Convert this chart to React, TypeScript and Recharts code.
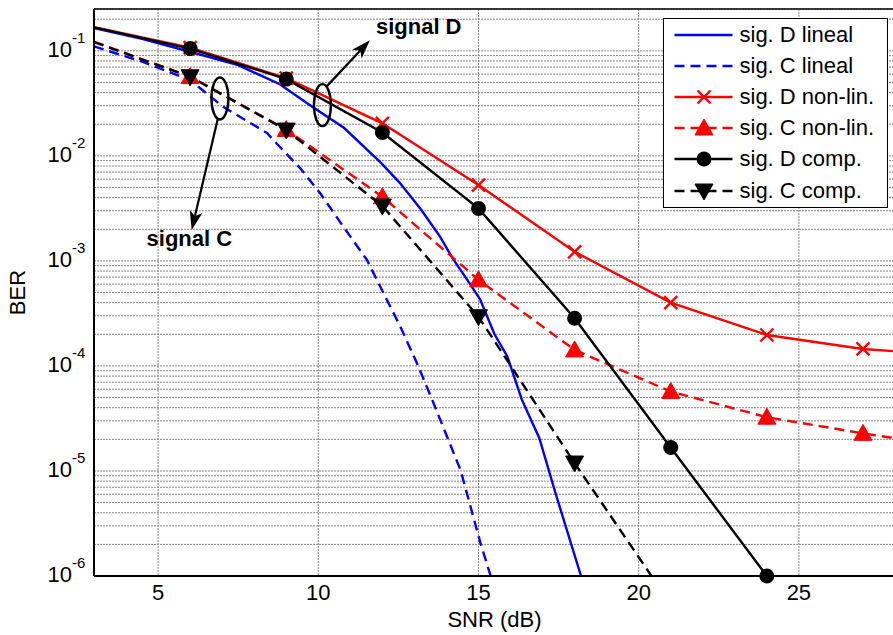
import { LineChart, Line, XAxis, YAxis, CartesianGrid, Legend, ReferenceLine, ReferenceDot } from 'recharts'

const FONT = '"Liberation Sans", Arial, Helvetica, sans-serif'

// simulated points (markers every 3 dB)
const markedSnr = [3, 6, 9, 12, 15, 18, 21, 24, 27, 28]
const sigDNonLin = [0.168, 0.107, 0.055, 0.0204, 0.00527, 0.00122, 0.0004, 0.000197, 0.000145, 0.000138]
const sigCNonLin = [0.122, 0.0568, 0.0178, 0.00408, 0.00066, 0.000142, 0.000057, 0.0000325, 0.0000228, 0.0000205]

const compDSnr = [3, 6, 9, 12, 15, 18, 21, 24]
const sigDComp = [0.167, 0.105, 0.0538, 0.0167, 0.00316, 0.000284, 0.0000167, 0.000001]
const compCSnr = [3, 6, 9, 12, 15, 18, 20.4]
const sigCComp = [0.121, 0.0566, 0.0176, 0.00333, 0.000294, 0.0000119, 0.000001]

// linear channel curves (dense, no markers)
const sigDLinealSnr = [3, 4.5, 6, 7.5, 8.8, 9.8, 10.8, 11.95, 12.55, 13.2, 13.8, 14.2, 14.65, 15.05, 15.5, 15.9, 16.35, 16.9, 17.4, 18.2]
const sigDLineal = [0.165, 0.13, 0.098, 0.073, 0.048, 0.0295, 0.0185, 0.0086, 0.0055, 0.0031, 0.0017, 0.00105, 0.00066, 0.00043, 0.0002, 0.000123, 0.000048, 0.0000205, 0.0000062, 0.000001]
const sigCLinealSnr = [3, 4.5, 6, 7.03, 8.4, 8.7, 9.44, 10.06, 10.79, 11.52, 12.04, 12.56, 13.08, 13.55, 14.44, 15.06, 15.38]
const sigCLineal = [0.11, 0.079, 0.0526, 0.0293, 0.0165, 0.0131, 0.0076, 0.0044, 0.0021, 0.00102, 0.00049, 0.000237, 0.000106, 0.000048, 0.0000102, 0.00000207, 0.000001]

const xTicks = [5, 10, 15, 20, 25]
const yDecades = [1e-6, 1e-5, 1e-4, 1e-3, 1e-2, 1e-1]
const yMinorSteps = [1, 2, 3, 4, 5, 6, 7, 8, 9]
const yTicks = yDecades
  .flatMap((d) => yMinorSteps.map((m) => +(m * d).toPrecision(3)))
  .filter((v) => v <= 0.25)

const toPoints = (snr: number[], ber: number[]) => snr.map((s, i) => ({ snr: s, ber: ber[i] }))

type MarkerKind = 'none' | 'x' | 'triUp' | 'triDown' | 'circle'

interface SeriesDef {
  name: string
  data: { snr: number; ber: number }[]
  color: string
  dash?: string
  marker: MarkerKind
}

const DASH = '10 6'
const LW = 2.4

const series: SeriesDef[] = [
  { name: 'sig. D lineal', data: toPoints(sigDLinealSnr, sigDLineal), color: '#0000ff', marker: 'none' },
  { name: 'sig. C lineal', data: toPoints(sigCLinealSnr, sigCLineal), color: '#0000ff', dash: DASH, marker: 'none' },
  { name: 'sig. D non-lin.', data: toPoints(markedSnr, sigDNonLin), color: '#ff0000', marker: 'x' },
  { name: 'sig. C non-lin.', data: toPoints(markedSnr, sigCNonLin), color: '#ff0000', dash: DASH, marker: 'triUp' },
  { name: 'sig. D comp.', data: toPoints(compDSnr, sigDComp), color: '#000000', marker: 'circle' },
  { name: 'sig. C comp.', data: toPoints(compCSnr, sigCComp), color: '#000000', dash: DASH, marker: 'triDown' },
]

const Marker = ({ kind, cx, cy, color }: { kind: MarkerKind; cx: number; cy: number; color: string }) => {
  if (kind === 'x') {
    const s = 6.5
    return (
      <g stroke={color} strokeWidth={LW}>
        <line x1={cx - s} y1={cy - s} x2={cx + s} y2={cy + s} />
        <line x1={cx - s} y1={cy + s} x2={cx + s} y2={cy - s} />
      </g>
    )
  }
  if (kind === 'triUp') {
    return <polygon points={`${cx},${cy - 9} ${cx - 9},${cy + 7} ${cx + 9},${cy + 7}`} fill={color} stroke={color} />
  }
  if (kind === 'triDown') {
    return <polygon points={`${cx},${cy + 9} ${cx - 9},${cy - 7} ${cx + 9},${cy - 7}`} fill={color} stroke={color} />
  }
  if (kind === 'circle') {
    return <circle cx={cx} cy={cy} r={7.5} fill={color} />
  }
  return null
}

const makeDot = (s: SeriesDef) => (p: any) => {
  const snr = p.payload?.snr
  const show = Number.isInteger(snr) && snr >= 6 && snr <= 27
  if (!show || p.cx == null || p.cy == null) return <g key={`d-${p.index}`} />
  return (
    <g key={`d-${p.index}`}>
      <Marker kind={s.marker} cx={p.cx} cy={p.cy} color={s.color} />
    </g>
  )
}

const YTick = ({ x, y, payload }: any) => {
  const lg = Math.log10(payload.value)
  const e = Math.round(lg)
  if (Math.abs(lg - e) > 1e-6) return <g />
  return (
    <g fontFamily={FONT} fill="#000">
      <text x={x - 14} y={y + 6} textAnchor="end" fontSize={22}>10</text>
      <text x={x - 14} y={y - 8} textAnchor="start" fontSize={15}>{`${e}`}</text>
    </g>
  )
}

const BerLabel = ({ viewBox }: any) => {
  const cx = 25
  const cy = viewBox.y + viewBox.height / 2
  return (
    <text x={cx} y={cy} transform={`rotate(-90 ${cx} ${cy})`} textAnchor="middle" fontSize={22} fontFamily={FONT} fill="#000">
      BER
    </text>
  )
}

const Arrow = (p: any) => {
  const { x1, y1, x2, y2 } = p
  const ang = Math.atan2(y2 - y1, x2 - x1)
  const len = 19
  const hw = 6.5
  const ux = Math.cos(ang)
  const uy = Math.sin(ang)
  const bx = x2 - ux * len
  const by = y2 - uy * len
  const nx = x2 - ux * (len - 5)
  const ny = y2 - uy * (len - 5)
  return (
    <g>
      <line x1={x1} y1={y1} x2={nx} y2={ny} stroke="#000" strokeWidth={2.2} />
      <polygon
        points={`${x2},${y2} ${bx - uy * hw},${by + ux * hw} ${nx},${ny} ${bx + uy * hw},${by - ux * hw}`}
        fill="#000"
      />
    </g>
  )
}

const Ellipse = ({ cx, cy }: any) => <ellipse cx={cx} cy={cy} rx={8.5} ry={21} fill="none" stroke="#000" strokeWidth={2.4} />

const Note = (text: string) => ({ cx, cy }: any) => (
  <text x={cx} y={cy} fontSize={22} fontWeight="bold" fontFamily={FONT} fill="#000">
    {text}
  </text>
)

const LegendBox = () => (
  <div
    style={{
      width: 225,
      height: 190,
      border: '1.5px solid #000',
      background: '#fff',
      boxSizing: 'border-box',
      fontFamily: FONT,
      fontSize: 22,
      color: '#000',
    }}
  >
    {series.map((s) => (
      <div key={s.name} style={{ display: 'flex', alignItems: 'center', height: 31.2 }}>
        <svg width={72} height={30} style={{ flex: 'none' }}>
          <line x1={10.5} x2={68.5} y1={15} y2={15} stroke={s.color} strokeWidth={LW} strokeDasharray={s.dash} />
          <Marker kind={s.marker} cx={40} cy={15} color={s.color} />
        </svg>
        <span style={{ marginLeft: 3.5, lineHeight: 1, whiteSpace: 'nowrap' }}>{s.name}</span>
      </div>
    ))}
  </div>
)

export default function App() {
  return (
    <div style={{ position: 'absolute', left: 0, top: 0, width: 893, height: 635, overflow: 'hidden', background: '#fff' }}>
      <LineChart width={900} height={635} margin={{ top: 9, right: 5, bottom: 0, left: 0 }}>
        <CartesianGrid stroke="#858585" strokeDasharray="2 1" />
        <XAxis
          dataKey="snr"
          type="number"
          domain={[3, 28]}
          ticks={xTicks}
          interval={0}
          height={59}
          tickLine={false}
          axisLine={{ stroke: '#000', strokeWidth: 2 }}
          tick={{ fontSize: 22, fill: '#000', fontFamily: FONT }}
          label={{ value: 'SNR (dB)', position: 'insideBottom', offset: 8, fontSize: 22, fill: '#000', fontFamily: FONT }}
        />
        <YAxis
          type="number"
          scale="log"
          domain={[1e-6, 0.25]}
          ticks={yTicks}
          interval={0}
          width={94}
          tickLine={false}
          axisLine={{ stroke: '#000', strokeWidth: 2 }}
          tick={<YTick />}
          label={<BerLabel />}
        />
        <ReferenceLine y={0.25} stroke="#000" strokeWidth={1.5} />
        {series.map((s) => (
          <Line
            key={s.name}
            data={s.data}
            dataKey="ber"
            name={s.name}
            type="linear"
            stroke={s.color}
            strokeWidth={LW}
            strokeDasharray={s.dash}
            dot={s.marker === 'none' ? false : makeDot(s)}
            activeDot={false}
            isAnimationActive={false}
          />
        ))}
        <ReferenceDot x={10.13} y={0.0304} shape={Ellipse} />
        <ReferenceLine segment={[{ x: 10.27, y: 0.0461 }, { x: 11.61, y: 0.126 }]} shape={Arrow} />
        <ReferenceDot x={11.8} y={0.144} shape={Note('signal D')} />
        <ReferenceDot x={6.93} y={0.0352} shape={Ellipse} />
        <ReferenceLine segment={[{ x: 6.87, y: 0.0229 }, { x: 6.05, y: 0.00197 }]} shape={Arrow} />
        <ReferenceDot x={4.64} y={0.00138} shape={Note('signal C')} />
        <Legend
          layout="vertical"
          align="center"
          verticalAlign="middle"
          content={<LegendBox />}
          wrapperStyle={{ left: 663, top: 18, width: 225 }}
        />
      </LineChart>
    </div>
  )
}
